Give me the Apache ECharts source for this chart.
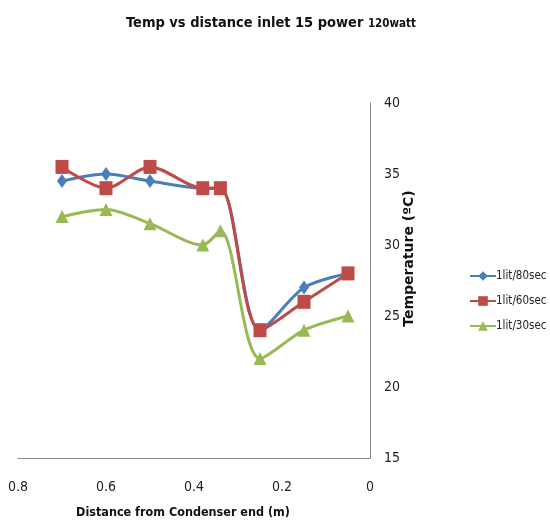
<!DOCTYPE html>
<html><head><meta charset="utf-8">
<script src="https://cdn.jsdelivr.net/npm/echarts@6/dist/echarts.min.js"></script>
<style>html,body{margin:0;padding:0;background:#fff}#c{width:550px;height:527px}</style>
</head><body><div id="c"></div>
<script>
const distances = [0.7, 0.6, 0.5, 0.38, 0.34, 0.25, 0.15, 0.05];
const temp80 = [34.5, 35.0, 34.5, 34.0, 34.0, 24.0, 27.0, 28.0];
const temp60 = [35.5, 34.0, 35.5, 34.0, 34.0, 24.0, 26.0, 28.0];
const temp30 = [32.0, 32.5, 31.5, 30.0, 31.0, 22.0, 24.0, 25.0];
const seriesNames = ['1lit/80sec', '1lit/60sec', '1lit/30sec'];
const xTicks = [0, 0.2, 0.4, 0.6, 0.8];
const yTicks = [15, 20, 25, 30, 35, 40];

const font = '"DejaVu Sans Condensed", "Liberation Sans Narrow", sans-serif';
const colors = ['#4a7ebb', '#be4b48', '#98b954'];
const symbols = ['diamond', 'rect', 'triangle'];
const sizes = [[10, 14], [13, 14], [13, 13]];
const data = [temp80, temp60, temp30];

const chart = echarts.init(document.getElementById('c'), null, {renderer: 'canvas'});
chart.setOption({
  animation: false,
  title: {
    text: '{a|Temp vs distance inlet 15 power }{b|120watt}',
    left: 266, top: 11, textAlign: 'center',
    textStyle: {rich: {
      a: {fontFamily: font, fontWeight: 'bold', fontSize: 14.5, color: '#111'},
      b: {fontFamily: font, fontWeight: 'bold', fontSize: 11.5, color: '#111', padding: [2, 0, 0, 0]}
    }}
  },
  legend: {
    orient: 'vertical', left: 464, top: 265,
    itemWidth: 26, itemHeight: 12, itemGap: 13,
    textStyle: {fontFamily: font, fontSize: 11.5, color: '#222', padding: [0, 0, 0, -5]},
    data: seriesNames
  },
  grid: {left: 18, right: 180, top: 103, bottom: 69},
  xAxis: {
    type: 'value', inverse: true, min: 0, max: 0.8, interval: 0.2,
    axisLine: {lineStyle: {color: '#888', width: 1}},
    axisTick: {show: false}, splitLine: {show: false},
    axisLabel: {fontFamily: font, fontSize: 14, color: '#222', margin: 22,
      formatter: v => { const t = xTicks.find(x => Math.abs(x - v) < 1e-9); return t === undefined ? '' : String(t); }},
    name: 'Distance from Condenser end (m)', nameLocation: 'middle', nameGap: 48,
    nameMoveOverlap: false,
    nameTextStyle: {fontFamily: font, fontWeight: 'bold', fontSize: 12.5, color: '#111', padding: [0, 22, 0, 0]}
  },
  yAxis: {
    type: 'value', position: 'right', min: 15, max: 40, interval: 5,
    axisLine: {show: true, lineStyle: {color: '#888', width: 1}},
    axisTick: {show: false}, splitLine: {show: false},
    axisLabel: {fontFamily: font, fontSize: 14, color: '#222', margin: 14,
      formatter: v => yTicks.includes(v) ? String(v) : ''},
    name: 'Temperature (ºC)', nameLocation: 'middle', nameRotate: 90, nameGap: 32,
    nameMoveOverlap: false,
    nameTextStyle: {fontFamily: '"DejaVu Sans", sans-serif', fontWeight: 'bold', fontSize: 14, color: '#111', padding: [0, 0, 0, 44]}
  },
  series: seriesNames.map((n, i) => ({
    name: n, type: 'line', smooth: 0.3,
    data: distances.map((d, j) => [d, data[i][j]]),
    symbol: symbols[i], symbolSize: sizes[i], showSymbol: true,
    lineStyle: {color: colors[i], width: 3},
    itemStyle: {color: colors[i], borderWidth: 0}
  }))
});
</script></body></html>
